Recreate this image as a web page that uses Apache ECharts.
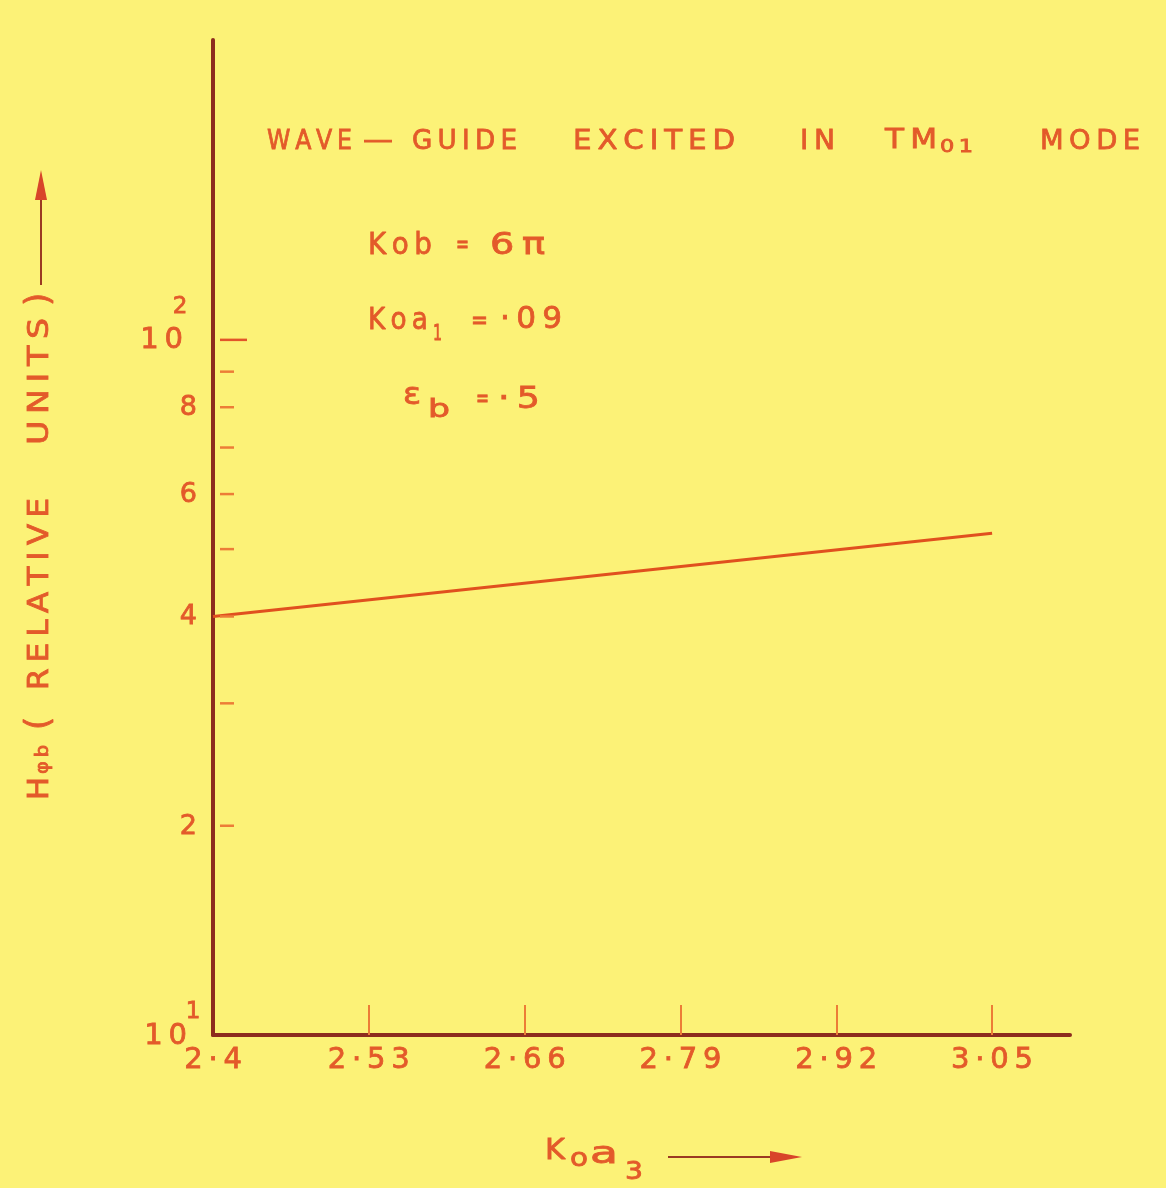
<!DOCTYPE html>
<html>
<head>
<meta charset="utf-8">
<title>Wave-guide excited in TM01 mode</title>
<script src="https://cdn.jsdelivr.net/npm/echarts@6/dist/echarts.min.js"></script>
<style>
  html, body { margin: 0; padding: 0; background: #fcf277; }
  #chart { width: 1166px; height: 1188px; }
</style>
</head>
<body>
<div id="chart"></div>
<script>
// ---- data ----
const xRange = [2.4, 3.115];
const xTickValues = [2.4, 2.53, 2.66, 2.79, 2.92, 3.05];
const xTickLabels = ['2·4', '2·53', '2·66', '2·79', '2·92', '3·05'];

const yRange = [10, 270];
const yTickValues = [10, 20, 30, 40, 50, 60, 70, 80, 90, 100];
const yTickLabels = ['10', '2', '', '4', '', '6', '', '8', '', '10'];
const yTickExponents = ['1', '', '', '', '', '', '', '', '', '2'];

// H_phi_b against k0·a3
const koa3 = [2.4, 3.05];
const hPhiB = [40, 52.7];

// ---- styling ----
const FONT = '"DejaVu Sans", sans-serif';
const INK = '#e35a2a';
const AXIS_INK = '#8d2c1e';
const TICK_INK = '#ec7d37';
const PEN = 0.8;   // extra stroke to give the lettering its pen weight

const measureCtx = document.createElement('canvas').getContext('2d');
function spaced(s) { return Array.from(s).join('\u2009'); }
function textWidth(s, size) {
  measureCtx.font = size + 'px ' + FONT;
  return measureCtx.measureText(s).width;
}
// lettering stretched to span [from, to] along its baseline
function letter(str, from, to, c, size, opts) {
  const o = opts || {};
  const text = o.tight ? str : spaced(str);
  const w = textWidth(text, size);
  const vertical = !!o.vertical;
  return {
    type: 'text',
    x: vertical ? c : from,
    y: vertical ? from : c,
    rotation: vertical ? Math.PI / 2 : 0,
    scaleX: o.natural ? 1 : Math.abs(to - from) / w,
    silent: true,
    z: 20,
    style: {
      text: text,
      font: size + 'px ' + FONT,
      fill: o.fill || INK,
      stroke: o.fill || INK,
      lineWidth: PEN,
      align: 'left',
      verticalAlign: 'middle'
    }
  };
}

const graphics = [
  // title
  letter('WAVE', 267, 352, 142, 27),
  letter('—', 363, 393, 141, 26, { tight: true }),
  letter('GUIDE', 412, 517, 142, 27),
  letter('EXCITED', 573, 735, 142, 27),
  letter('IN', 800, 835, 142, 27),
  letter('TM', 885, 937, 141, 27),
  letter('01', 940, 973, 148, 17),
  letter('MODE', 1040, 1140, 142, 27),

  // parameters
  letter('Kob', 368, 432, 246, 31),
  letter('=', 456, 469, 246, 26, { tight: true }),
  letter('6π', 490, 545, 246, 31),

  letter('Koa', 368, 428, 321, 31),
  letter('1', 433, 442, 334, 22),
  letter('=', 471, 488, 322, 26, { tight: true }),
  letter('·09', 500, 562, 320, 31),

  letter('ε', 403, 421, 396, 30),
  letter('b', 428, 450, 411, 24),
  letter('=', 476, 489, 400, 26, { tight: true }),
  letter('·5', 498, 540, 400, 31),

  // y-axis title, reading upwards
  letter('H', 800, 777, 41, 28, { vertical: true }),
  letter('φb', 774, 745, 43, 18, { vertical: true }),
  letter('(', 730, 0, 40, 34, { vertical: true, tight: true, natural: true }),
  letter('RELATIVE', 690, 498, 41, 28, { vertical: true }),
  letter('UNITS', 445, 318, 41, 28, { vertical: true }),
  letter(')', 306, 0, 40, 34, { vertical: true, tight: true, natural: true }),
  { type: 'line', silent: true, z: 20, shape: { x1: 41, y1: 285, x2: 41, y2: 195 },
    style: { stroke: '#9a3a22', lineWidth: 2 } },
  { type: 'polygon', silent: true, z: 20, shape: { points: [[41, 170], [35, 200], [47, 200]] },
    style: { fill: '#d8452a' } },

  // x-axis title
  letter('K', 545, 565, 1152, 28, { tight: true }),
  letter('o', 570, 588, 1160, 24, { tight: true }),
  letter('a', 590, 618, 1155, 30, { tight: true }),
  letter('3', 625, 643, 1173, 24, { tight: true }),
  { type: 'line', silent: true, z: 20, shape: { x1: 668, y1: 1157, x2: 780, y2: 1157 },
    style: { stroke: '#9a3a22', lineWidth: 2 } },
  { type: 'polygon', silent: true, z: 20, shape: { points: [[802, 1157], [770, 1151], [770, 1163]] },
    style: { fill: '#d8452a' } }
];

// y-axis ticks and labels on the logarithmic scale
function renderYTicks(params, api) {
  const i = params.dataIndex;
  const v = yTickValues[i];
  const p = api.coord([xRange[0], v]);
  const decade = Math.abs(Math.log10(v) - Math.round(Math.log10(v))) < 1e-9;
  const bottom = v === yRange[0];
  const children = [];
  if (!bottom) {
    children.push({
      type: 'line',
      shape: { x1: p[0] + 7, y1: p[1], x2: p[0] + (decade ? 34 : 21), y2: p[1] },
      style: { stroke: decade ? '#e2552a' : TICK_INK, lineWidth: 2.5 }
    });
  }
  if (yTickLabels[i]) {
    children.push({
      type: 'text',
      x: decade ? p[0] - (bottom ? 26 : 30) : p[0] - 16,
      y: p[1] + 1,
      style: {
        text: decade ? spaced(yTickLabels[i]) : yTickLabels[i],
        font: (decade ? 29 : 27) + 'px ' + FONT,
        fill: INK, stroke: INK, lineWidth: PEN,
        align: 'right', verticalAlign: 'middle'
      }
    });
  }
  if (yTickExponents[i]) {
    children.push({
      type: 'text',
      x: p[0] - (bottom ? 20 : 33),
      y: p[1] - (bottom ? 23 : 33),
      style: {
        text: yTickExponents[i],
        font: '23px ' + FONT,
        fill: INK, stroke: INK, lineWidth: PEN,
        align: 'center', verticalAlign: 'middle'
      }
    });
  }
  return { type: 'group', children: children };
}

const chart = echarts.init(document.getElementById('chart'), null, { renderer: 'canvas' });
chart.setOption({
  animation: false,
  backgroundColor: '#fcf277',
  grid: { left: 213, right: 96, top: 40, bottom: 153, containLabel: false },
  xAxis: {
    type: 'value',
    min: xRange[0],
    max: xRange[1],
    axisLine: { show: true, onZero: false, lineStyle: { color: AXIS_INK, width: 4 } },
    axisTick: {
      show: true, inside: true, length: 30,
      customValues: xTickValues.slice(1),
      lineStyle: { color: TICK_INK, width: 2 }
    },
    axisLabel: {
      show: true,
      customValues: xTickValues,
      margin: 11,
      color: INK,
      textBorderColor: INK,
      textBorderWidth: PEN,
      fontFamily: FONT,
      fontSize: 29,
      formatter: function (v) {
        const k = xTickValues.findIndex(t => Math.abs(t - v) < 1e-6);
        return k >= 0 ? spaced(xTickLabels[k]) : '';
      }
    },
    splitLine: { show: false }
  },
  yAxis: {
    type: 'log',
    logBase: 10,
    min: yRange[0],
    max: yRange[1],
    axisLine: { show: true, onZero: false, lineStyle: { color: AXIS_INK, width: 4 } },
    axisTick: { show: false },
    axisLabel: { show: false },
    splitLine: { show: false }
  },
  graphic: { elements: graphics },
  series: [
    {
      type: 'line',
      data: koa3.map((x, i) => [x, hPhiB[i]]),
      showSymbol: false,
      symbol: 'none',
      lineStyle: { color: '#e0501e', width: 3 },
      silent: true,
      z: 5
    },
    {
      type: 'custom',
      data: yTickValues.map(v => [xRange[0], v]),
      renderItem: renderYTicks,
      clip: false,
      silent: true,
      z: 6
    }
  ]
});
</script>
</body>
</html>
